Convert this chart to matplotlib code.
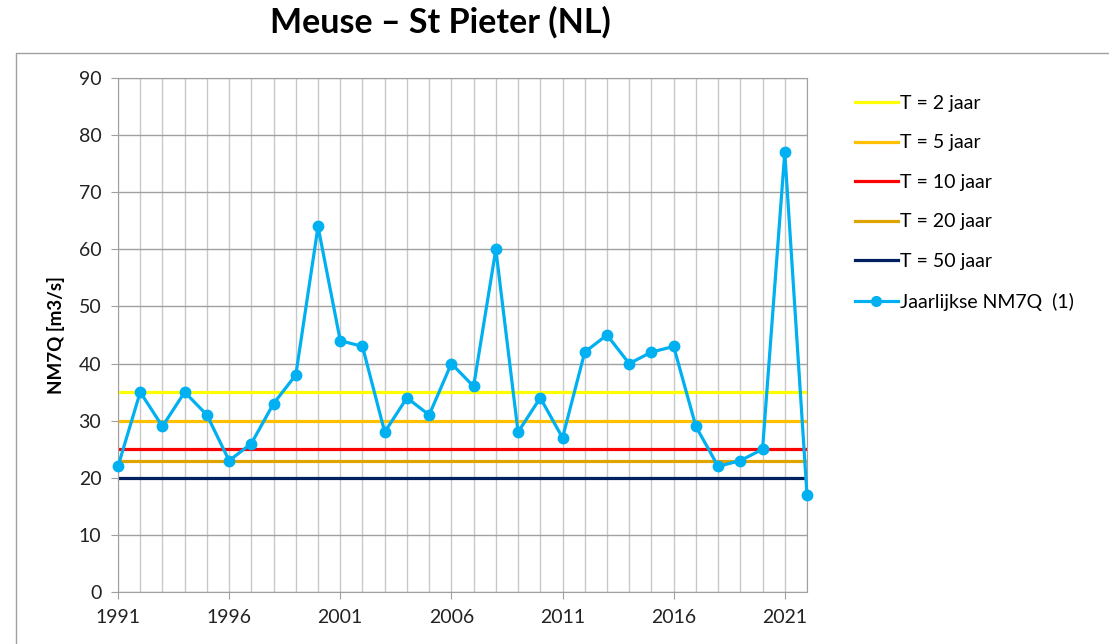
import matplotlib
matplotlib.use('Agg')
import matplotlib.pyplot as plt
from matplotlib.lines import Line2D

plt.rcParams['font.family'] = ['Lato', 'DejaVu Sans']

years = list(range(1991, 2023))
nm7q = [22, 35, 29, 35, 31, 23, 26, 33, 38, 64, 44, 43, 28, 34, 31, 40,
        36, 60, 28, 34, 27, 42, 45, 40, 42, 43, 29, 22, 23, 25, 77, 17]

# return period thresholds
t_labels = ['T = 2 jaar', 'T = 5 jaar', 'T = 10 jaar', 'T = 20 jaar', 'T = 50 jaar']
t_values = [35, 30, 25, 23, 20]
t_colors = ['#ffff00', '#ffc000', '#ff0000', '#e0a400', '#002060']

series_label = 'Jaarlijkse NM7Q  (1)'
series_color = '#00b0f0'

fig = plt.figure(figsize=(11.09, 6.44), dpi=100)
ax = fig.add_axes([118 / 1109, 1 - 592 / 644, (807 - 118) / 1109, (592 - 78) / 644])

# vertical gridlines every year, darker horizontal ones every 10
ax.set_xticks(years, minor=True)
ax.set_xticks(years[::5])
ax.set_yticks(range(0, 91, 10))
ax.grid(True, which='minor', axis='x', color='#c8c8c8', lw=1)
ax.grid(True, which='major', axis='x', color='#c8c8c8', lw=1)
ax.grid(True, which='major', axis='y', color='#a0a0a0', lw=1)
ax.set_axisbelow(True)

handles = []
for lab, val, col in zip(t_labels, t_values, t_colors):
    ax.axhline(val, color=col, lw=2.3, zorder=2)
    handles.append(Line2D([], [], color=col, lw=2.3, label=lab))

ax.plot(years, nm7q, color=series_color, lw=2.3, marker='o', ms=7.5,
        zorder=3, clip_on=False)
handles.append(Line2D([], [], color=series_color, lw=2.3, marker='o', ms=7,
                      label=series_label))

ax.set_xlim(1991, 2022)
ax.set_ylim(0, 90)
for s in ax.spines.values():
    s.set_color('#a0a0a0')
ax.tick_params(axis='both', which='major', direction='out', length=5,
               color='#a0a0a0', labelsize=14, labelcolor='#222222', pad=7)
ax.tick_params(axis='x', which='minor', length=0)
ax.set_ylabel('NM7Q [m3/s]', fontsize=13.5, fontweight='bold', labelpad=10)

fig.legend(handles=handles, loc='upper left', bbox_to_anchor=(847 / 1109, 1 - 87 / 644),
           frameon=False, fontsize=14, handlelength=2.2, handletextpad=0.1,
           labelspacing=1.16, borderaxespad=0)

fig.text(440 / 1109, 1 - 22 / 644, 'Meuse – St Pieter (NL)', ha='center', va='center',
         fontsize=24.5, fontweight='bold')

# outer chart frame
fig.add_artist(Line2D([16 / 1109, 16 / 1109, 1.0], [0.0, 1 - 53 / 644, 1 - 53 / 644],
                      transform=fig.transFigure, color='#a0a0a0', lw=1))

fig.savefig('out.png', dpi=100)
